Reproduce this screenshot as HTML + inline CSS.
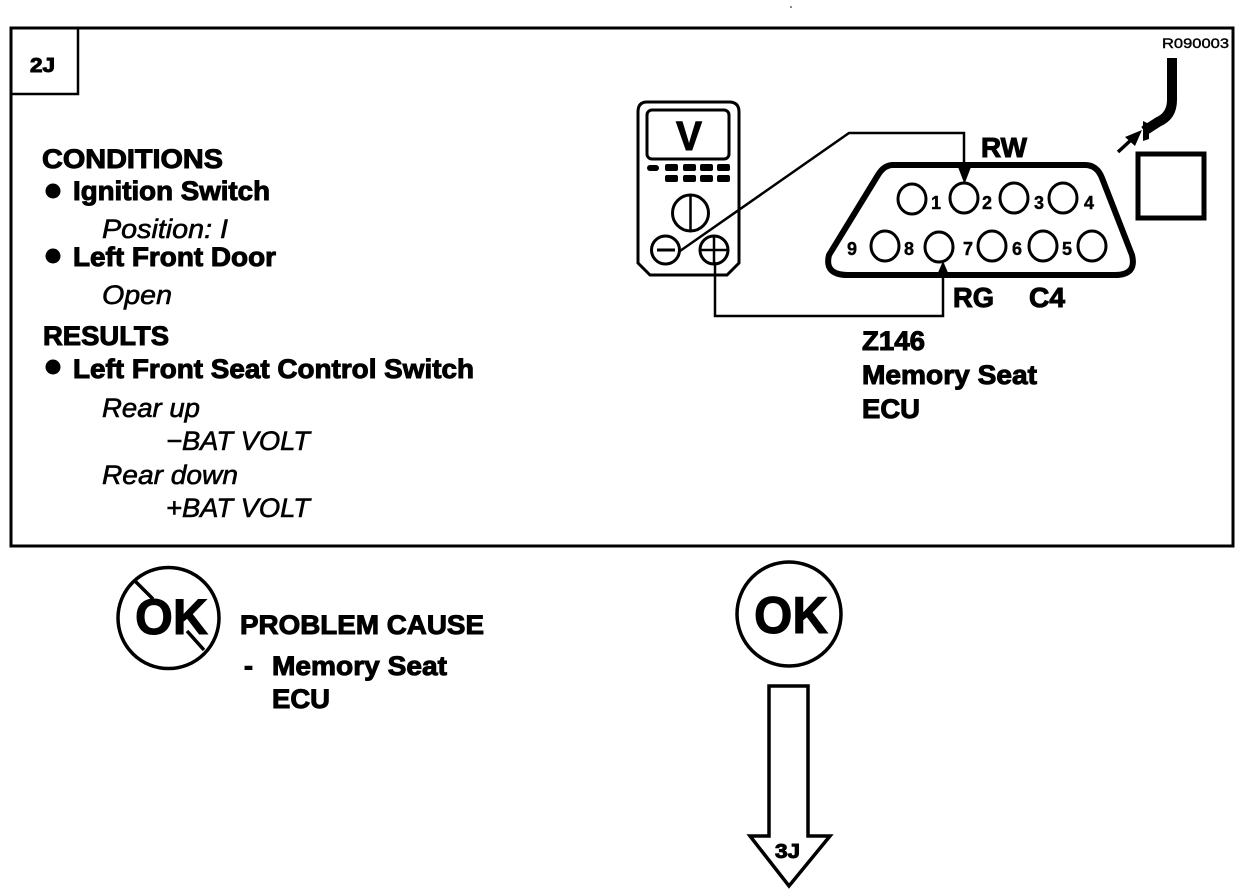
<!DOCTYPE html>
<html><head><meta charset="utf-8"><style>
html,body{margin:0;padding:0;background:#fff}
svg{display:block}
text{font-family:"Liberation Sans",sans-serif;fill:#000}
.b{font-weight:bold;stroke:#000;stroke-width:1px}
.i{font-style:italic;stroke:#000;stroke-width:.6px}
</style></head><body>
<svg width="1248" height="896" viewBox="0 0 1248 896" xmlns="http://www.w3.org/2000/svg">
<g fill="none" stroke="#000">
<rect x="11" y="28" width="1222" height="518" stroke-width="3"/>
<path d="M11 94H78V28" stroke-width="2.5"/>
<!-- meter -->
<path d="M647 102H729Q739 102 739 112V263L727 275H650L638 263V112Q638 102 647 102Z" stroke-width="3"/>
<rect x="647" y="110" width="82" height="49" rx="5" stroke-width="3"/>
<circle cx="690.5" cy="213" r="18" stroke-width="3"/>
<path d="M690.5 196V231" stroke-width="2.5"/>
<circle cx="665.5" cy="250" r="14" stroke-width="3"/>
<circle cx="714" cy="250" r="14" stroke-width="3"/>
<path d="M700 250H728M714 236V264" stroke-width="2.5"/>
<path d="M657 250H675" stroke-width="3"/>
<!-- wires -->
<path d="M680 251L849 133H964V170" stroke-width="2.5"/>
<path d="M715 262V316H943V272" stroke-width="2.5"/>
<!-- connector -->
<path d="M893 165H1085Q1097 165 1102 178L1132 255Q1137 275 1115 275H848Q824 275 829 255L878 175Q884 165 893 165Z" stroke-width="6"/>
<g stroke-width="3">
<ellipse cx="912" cy="199" rx="14" ry="15"/><ellipse cx="964" cy="198" rx="14" ry="15"/><ellipse cx="1014" cy="198" rx="14" ry="15"/><ellipse cx="1063" cy="198" rx="14" ry="15"/>
<ellipse cx="885" cy="246" rx="14" ry="15"/><ellipse cx="939" cy="247" rx="14" ry="15"/><ellipse cx="992" cy="246" rx="14" ry="15"/><ellipse cx="1043" cy="246" rx="14" ry="15"/><ellipse cx="1092" cy="246" rx="14" ry="15"/>
</g>
<!-- cable -->
<path d="M1172 58V100Q1172 116 1158 122L1144 131" stroke-width="10"/>
<path d="M1118 152L1131 140" stroke-width="3.5"/>
<rect x="1138" y="154" width="66" height="64" stroke-width="5"/>
<!-- lower -->
<circle cx="168.5" cy="618" r="50.5" stroke-width="3.5"/>
<circle cx="789" cy="614" r="52" stroke-width="3.5"/>
<path d="M135 581L153 599M187 631L204 650" stroke-width="3.5"/>
<path d="M769 686H808V836H830L789 886L750 836H769Z" stroke-width="3.5" stroke-linejoin="miter"/>
</g>
<g fill="#000">
<!-- meter buttons -->
<rect x="647" y="165" width="12" height="6" rx="3"/>
<rect x="665" y="164" width="13" height="7" rx="2"/><rect x="683" y="164" width="13" height="7" rx="2"/><rect x="700" y="164" width="13" height="7" rx="2"/><rect x="717" y="164" width="13" height="7" rx="2"/>
<rect x="665" y="175" width="13" height="7" rx="2"/><rect x="683" y="175" width="13" height="7" rx="2"/><rect x="700" y="175" width="13" height="7" rx="2"/><rect x="717" y="175" width="13" height="7" rx="2"/>
<!-- pin arrowheads -->
<path d="M958 167H971L964.5 184Z"/>
<path d="M937 275H949L943 261Z"/>
<!-- bullets -->
<circle cx="53" cy="191" r="7.5"/><circle cx="53" cy="256" r="7.5"/><circle cx="53" cy="367" r="7.5"/>
<!-- small arrow and clip -->
<path d="M1142 130L1125 137L1135 146Z"/>
<path d="M1143 121L1149 124L1149 139L1143 141Z"/>
<circle cx="791" cy="7" r=".8"/>
</g>
<!-- text -->
<text class="b" x="30" y="72" font-size="20" textLength="25" lengthAdjust="spacingAndGlyphs">2J</text>
<text class="b" x="42" y="168" font-size="27" textLength="181" lengthAdjust="spacingAndGlyphs">CONDITIONS</text>
<text class="b" x="73" y="200" font-size="27" textLength="197" lengthAdjust="spacingAndGlyphs">Ignition Switch</text>
<text class="i" x="102" y="238" font-size="27" textLength="126" lengthAdjust="spacingAndGlyphs">Position: I</text>
<text class="b" x="73" y="266" font-size="27" textLength="203" lengthAdjust="spacingAndGlyphs">Left Front Door</text>
<text class="i" x="102" y="304" font-size="27" textLength="70" lengthAdjust="spacingAndGlyphs">Open</text>
<text class="b" x="43" y="345" font-size="27" textLength="126" lengthAdjust="spacingAndGlyphs">RESULTS</text>
<text class="b" x="73" y="378" font-size="27" textLength="401" lengthAdjust="spacingAndGlyphs">Left Front Seat Control Switch</text>
<text class="i" x="102" y="417" font-size="27" textLength="98" lengthAdjust="spacingAndGlyphs">Rear up</text>
<text class="i" x="166" y="450" font-size="27" textLength="144" lengthAdjust="spacingAndGlyphs">−BAT VOLT</text>
<text class="i" x="102" y="484" font-size="27" textLength="136" lengthAdjust="spacingAndGlyphs">Rear down</text>
<text class="i" x="166" y="517" font-size="27" textLength="144" lengthAdjust="spacingAndGlyphs">+BAT VOLT</text>
<text x="1162" y="48" font-size="14" textLength="67" lengthAdjust="spacingAndGlyphs" stroke="#000" stroke-width=".4">R090003</text>
<text class="b" x="676" y="150" font-size="41" textLength="26" lengthAdjust="spacingAndGlyphs">V</text>
<text class="b" x="981" y="157" font-size="28" textLength="46" lengthAdjust="spacingAndGlyphs">RW</text>
<text class="b" x="953" y="307" font-size="28" textLength="41" lengthAdjust="spacingAndGlyphs">RG</text>
<text class="b" x="1029" y="307" font-size="28" textLength="36" lengthAdjust="spacingAndGlyphs">C4</text>
<text class="b" x="862" y="350" font-size="27" textLength="63" lengthAdjust="spacingAndGlyphs">Z146</text>
<text class="b" x="862" y="384" font-size="27" textLength="175" lengthAdjust="spacingAndGlyphs">Memory Seat</text>
<text class="b" x="862" y="418" font-size="27" textLength="58" lengthAdjust="spacingAndGlyphs">ECU</text>
<g class="b" font-size="18" font-weight="bold" style="stroke-width:.4px">
<text x="931" y="209">1</text><text x="982" y="209">2</text><text x="1034" y="209">3</text><text x="1084" y="209">4</text>
<text x="847" y="255">9</text><text x="904" y="255">8</text><text x="963" y="255">7</text><text x="1012" y="255">6</text><text x="1062" y="255">5</text>
</g>
<text class="b" x="135" y="634" font-size="50" textLength="73" lengthAdjust="spacingAndGlyphs">OK</text>
<text class="b" x="754" y="633" font-size="52" textLength="74" lengthAdjust="spacingAndGlyphs">OK</text>
<text class="b" x="240" y="634" font-size="27" textLength="244" lengthAdjust="spacingAndGlyphs">PROBLEM CAUSE</text>
<text class="b" x="244" y="675" font-size="27">-</text>
<text class="b" x="272" y="675" font-size="27" textLength="175" lengthAdjust="spacingAndGlyphs">Memory Seat</text>
<text class="b" x="272" y="708" font-size="27" textLength="58" lengthAdjust="spacingAndGlyphs">ECU</text>
<text class="b" x="775" y="858" font-size="20" textLength="25" lengthAdjust="spacingAndGlyphs">3J</text>
</svg>
</body></html>
